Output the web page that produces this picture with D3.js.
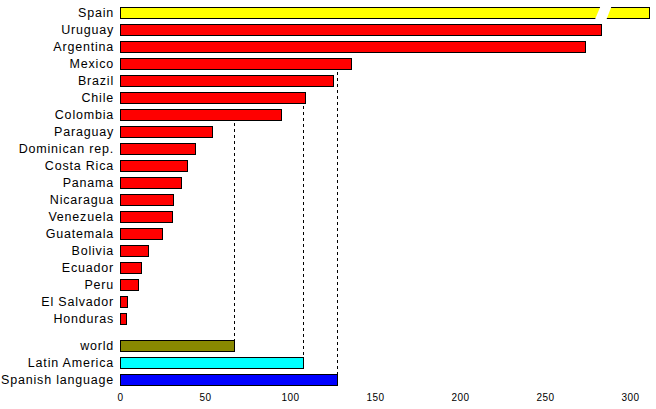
<!DOCTYPE html>
<html>
<head>
<meta charset="utf-8">
<script src="https://cdn.jsdelivr.net/npm/d3@7"></script>
<style>
  html, body { margin: 0; padding: 0; background: #fff; }
  svg { display: block; }
  text { font-family: "Liberation Sans", Arial, Helvetica, sans-serif; fill: #000; }
</style>
</head>
<body>
<svg id="chart" width="656" height="409"></svg>
<script>
// ---- data ----
const countries = ["Spain", "Uruguay", "Argentina", "Mexico", "Brazil", "Chile", "Colombia",
  "Paraguay", "Dominican rep.", "Costa Rica", "Panama", "Nicaragua", "Venezuela",
  "Guatemala", "Bolivia", "Ecuador", "Peru", "El Salvador", "Honduras"];
// Spain's bar is broken (truncated) at the right edge of the plot
const countryValues = [311, 282.8, 273.7, 135.7, 125.5, 109, 94.9,
  54.3, 43.9, 39.2, 35.7, 31.4, 30.8, 24.5, 16.7, 12.2, 10.4, 4.3, 3.7];
const countryColors = ["#ffff00"].concat(d3.range(18).map(() => "#ff0000"));
const summaryLabels = ["world", "Latin America", "Spanish language"];
const summaryValues = [67.3, 107.5, 127.5];
const summaryColors = ["#888800", "#00ffff", "#0000ff"];
const tickValues = [0, 50, 100, 150, 200, 250, 300];
const brokenBar = "Spain";

// ---- layout ----
const svg = d3.select("#chart");
const x = d3.scaleLinear().domain([0, 300]).range([120, 630]);
const allLabels = countries.concat(summaryLabels);
const groupGap = 10;
const y = d3.scaleBand().domain(allLabels)
  .range([7, 7 + 21 * 17 + 11]).paddingInner(6 / 17).paddingOuter(0);
const yPos = name => y(name) + (summaryLabels.includes(name) ? groupGap : 0);

const rows = countries.map((c, i) => ({ name: c, value: countryValues[i], color: countryColors[i] }))
  .concat(summaryLabels.map((c, i) => ({ name: c, value: summaryValues[i], color: summaryColors[i] })));

const barW = v => Math.round(x(v) - x(0));

// ---- reference dashed lines ----
summaryLabels.forEach((s, i) => {
  const v = summaryValues[i];
  let lastAbove = -1;
  countries.forEach((c, j) => { if (countryValues[j] > v) lastAbove = j; });
  const y0 = lastAbove >= 0 ? y(countries[lastAbove]) + y.bandwidth() + 3 : 0;
  const y1 = yPos(s);
  const lx = x(0) + 0.5 + barW(v);
  svg.append("line")
    .attr("x1", lx).attr("x2", lx)
    .attr("y1", y0).attr("y2", y1)
    .attr("stroke", "#000").attr("stroke-width", 1)
    .attr("stroke-dasharray", "3,3");
});

// ---- bars ----
svg.append("g").selectAll("rect").data(rows).join("rect")
  .attr("x", x(0) + 0.5)
  .attr("y", d => yPos(d.name) + 0.5)
  .attr("width", d => barW(d.value))
  .attr("height", y.bandwidth())
  .attr("fill", d => d.color)
  .attr("stroke", "#000")
  .attr("stroke-width", 1);

// ---- break mark on the truncated bar ----
{
  const by = y(brokenBar);
  const bx = x(279.5);
  svg.append("polygon")
    .attr("points", [
      [bx + 0.4 + 5, by - 1], [bx + 11.5 + 5, by - 1],
      [bx + 11.5 - 0.4, by + 13], [bx - 0.4, by + 13]
    ].map(p => p.join(",")).join(" "))
    .attr("fill", "#fff");
}

// ---- category labels ----
svg.append("g").selectAll("text").data(rows).join("text")
  .attr("x", 114)
  .attr("y", d => yPos(d.name) + y.bandwidth() / 2 + 4.5)
  .attr("text-anchor", "end")
  .attr("font-size", "12.5px")
  .attr("letter-spacing", "0.8px")
  .text(d => d.name);

// ---- x-axis tick labels (no axis line) ----
const axis = d3.axisBottom(x).tickValues(tickValues).tickSize(0).tickPadding(0).tickFormat(d3.format("d"));
const ag = svg.append("g").attr("transform", "translate(0,394)").call(axis);
ag.select(".domain").remove();
ag.selectAll("text")
  .attr("font-size", "10px")
  .attr("letter-spacing", "0.4px")
  .attr("font-family", "'Liberation Sans', Arial, sans-serif")
  .attr("fill", "#000");
</script>
</body>
</html>
